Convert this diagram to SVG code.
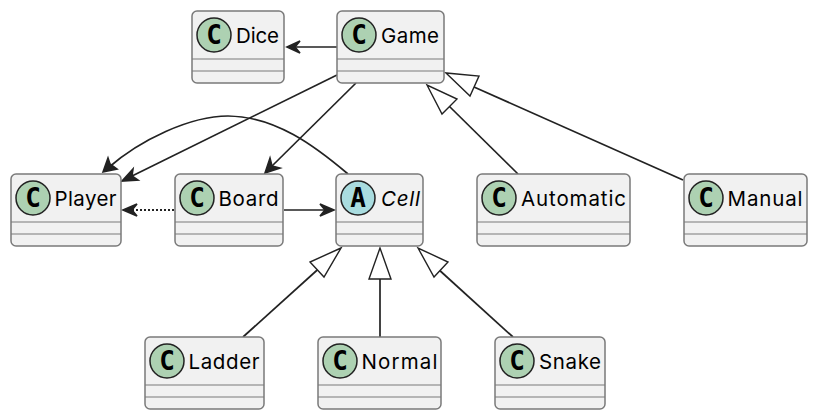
<svg xmlns="http://www.w3.org/2000/svg" width="817" height="420" viewBox="0 0 817 420">
<style>
.box{fill:#f1f1f1;stroke:#7a7a7a;stroke-width:1.5}
.div{stroke:#7a7a7a;stroke-width:1.2;fill:none}
.cc{fill:#add1b2;stroke:#222;stroke-width:1.5}
.ca{fill:#a9dcdf;stroke:#222;stroke-width:1.5}
.glyph{font-family:"DejaVu Sans Mono","Liberation Mono",monospace;font-weight:700;font-size:26px;fill:#000;text-anchor:middle}
.name{font-family:"Inter","Liberation Sans",sans-serif;font-size:20.5px;fill:#000}
.abs{font-style:italic}
.line{fill:none;stroke:#222;stroke-width:1.7}
.dot{stroke-width:2;stroke-dasharray:2 2}
.open{fill:#222;stroke:#222;stroke-width:1.6;stroke-linejoin:miter}
.tri{fill:#fff;stroke:#222;stroke-width:1.4}
</style>
<g id="connectors">
<path class="line" d="M337 47H290"/><path class="open" d="M287 47L300 41L295 47L300 53Z"/>
<path class="line" d="M337 75L128 178"/><path class="open" d="M122 181L133 169L132 176L138 180Z"/>
<path class="line" d="M356 83L270 168"/><path class="open" d="M265 173L270 158L272 166L280 168Z"/>
<path class="line" d="M348 174C315 146 275 116 228 116C190 116 140 140 108 168"/><path class="open" d="M103 172L108 158L110 164L117 169Z"/>
<path class="line dot" d="M174 210H128"/><path class="open" d="M123 210L137 204L132 210L137 216Z"/>
<path class="line" d="M284 210H330"/><path class="open" d="M334 210L320 204L325 210L320 216Z"/>
<path class="line" d="M243 337L325 263"/><path class="tri" d="M341 248L310 262L324 277Z"/>
<path class="line" d="M380 337V279"/><path class="tri" d="M380 248L369 279H391Z"/>
<path class="line" d="M513 337L437 268"/><path class="tri" d="M418 248L434 277L448 262Z"/>
<path class="line" d="M518 174L449 106"/><path class="tri" d="M427 85L442 114L457 99Z"/>
<path class="line" d="M683 180L474 87"/><path class="tri" d="M446 73L470 96L479 76Z"/>
</g>
<g id="Dice"><rect class="box" x="192" y="11" width="92" height="72" rx="5"/><path class="div" d="M192 59H284M192 71H284"/><circle class="cc" cx="214" cy="35" r="17"/><text class="glyph" x="214" y="44">C</text><text class="name" x="236" y="43" textLength="43">Dice</text></g>
<g id="Game"><rect class="box" x="337" y="11" width="107" height="72" rx="5"/><path class="div" d="M337 59H444M337 71H444"/><circle class="cc" cx="359" cy="35" r="17"/><text class="glyph" x="359" y="44">C</text><text class="name" x="381" y="43" textLength="58">Game</text></g>
<g id="Player"><rect class="box" x="11" y="174" width="110" height="72" rx="5"/><path class="div" d="M11 222H121M11 234H121"/><circle class="cc" cx="33" cy="198" r="17"/><text class="glyph" x="33" y="207">C</text><text class="name" x="54.500" y="206" textLength="62">Player</text></g>
<g id="Board"><rect class="box" x="175" y="174" width="108" height="72" rx="5"/><path class="div" d="M175 222H283M175 234H283"/><circle class="cc" cx="197" cy="198" r="17"/><text class="glyph" x="197" y="207">C</text><text class="name" x="218.500" y="206" textLength="60">Board</text></g>
<g id="Cell"><rect class="box" x="336" y="174" width="87" height="72" rx="5"/><path class="div" d="M336 222H423M336 234H423"/><circle class="ca" cx="358" cy="198" r="17"/><text class="glyph" x="358" y="207">A</text><text class="name abs" x="381" y="206" textLength="39">Cell</text></g>
<g id="Automatic"><rect class="box" x="477" y="174" width="153" height="72" rx="5"/><path class="div" d="M477 222H630M477 234H630"/><circle class="cc" cx="499" cy="198" r="17"/><text class="glyph" x="499" y="207">C</text><text class="name" x="521" y="206" textLength="105">Automatic</text></g>
<g id="Manual"><rect class="box" x="684" y="174" width="123" height="72" rx="5"/><path class="div" d="M684 222H807M684 234H807"/><circle class="cc" cx="706" cy="198" r="17"/><text class="glyph" x="706" y="207">C</text><text class="name" x="727.500" y="206" textLength="75">Manual</text></g>
<g id="Ladder"><rect class="box" x="145" y="337" width="119" height="72" rx="5"/><path class="div" d="M145 385H264M145 397H264"/><circle class="cc" cx="167" cy="361" r="17"/><text class="glyph" x="167" y="370">C</text><text class="name" x="188.500" y="369" textLength="71">Ladder</text></g>
<g id="Normal"><rect class="box" x="318" y="337" width="123" height="72" rx="5"/><path class="div" d="M318 385H441M318 397H441"/><circle class="cc" cx="340" cy="361" r="17"/><text class="glyph" x="340" y="370">C</text><text class="name" x="361.500" y="369" textLength="76">Normal</text></g>
<g id="Snake"><rect class="box" x="495" y="337" width="110" height="72" rx="5"/><path class="div" d="M495 385H605M495 397H605"/><circle class="cc" cx="517" cy="361" r="17"/><text class="glyph" x="517" y="370">C</text><text class="name" x="539" y="369" textLength="62">Snake</text></g>
</svg>
